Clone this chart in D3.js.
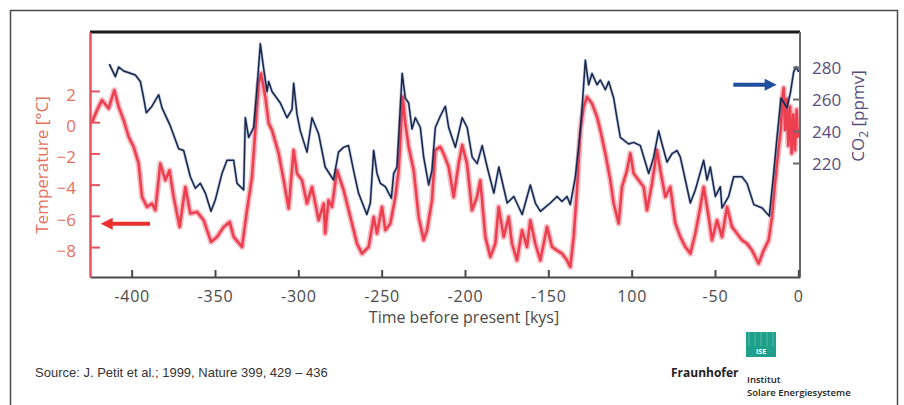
<!DOCTYPE html>
<html>
<head>
<meta charset="utf-8">
<script src="https://cdn.jsdelivr.net/npm/d3@7/dist/d3.min.js"></script>
<style>
  body { margin: 0; background: #fff; }
  svg { display: block; }
</style>
</head>
<body>
<svg id="chart" width="904" height="405"></svg>
<script>
// time before present in kyr
var tempYears = [-423.8, -420.8, -417.8, -413.8, -410.4, -407.8, -404.8, -401.8, -398.8, -395.8,
  -393.8, -390.8, -387.8, -385.8, -382.8, -379.8, -377.3, -374.8, -371.2, -367.8,
  -364.8, -360.8, -356.8, -352.4, -348.8, -344.8, -341.2, -338.8, -333.8, -330.8,
  -327.8, -325.8, -323.8, -322.4, -319.8, -317.8, -315.8, -311.8, -308.8, -305.8,
  -302.8, -300.8, -297.8, -294.8, -291.8, -287.8, -284.8, -283.9, -281.9, -279.8,
  -276.8, -272.8, -268.8, -264.8, -261.8, -257.8, -254.8, -252.8, -249.8, -247.8,
  -244.8, -241.8, -239.8, -237.4, -235.8, -233.8, -230.8, -227.8, -224.8, -222.8,
  -219.8, -217.8, -214.8, -212.5, -209.8, -206.8, -203.8, -201.7, -198.8, -195.8,
  -192.8, -190.8, -187.8, -184.8, -181.8, -179.8, -176.8, -173.8, -171.8, -168.8,
  -165.8, -162.8, -160.8, -157.8, -154.8, -150.8, -147.8, -144.8, -141.8, -138.8,
  -136.8, -134.8, -132.8, -130.8, -128.8, -126.8, -123.8, -120.8, -118.8, -115.8,
  -112.8, -110.8, -107.8, -105.8, -102.8, -100.8, -98.8, -95.8, -92.8, -90.8,
  -87.8, -84.8, -82.8, -79.8, -76.8, -73.8, -70.8, -67.8, -64.8, -61.8,
  -58.8, -56.8, -53.8, -51.8, -48.8, -45.8, -42.8, -39.8, -36.8, -33.8,
  -30.8, -27.8, -23.8, -20.8, -17.8, -15.8, -14.2, -12.8, -10.4, -9.5,
  -8.8, -8.0, -7.0, -6.0, -5.0, -4.0, -3.0, -2.0, -1.0, -0.3];
var tempValues = [0.0, 0.77, 1.41, 0.88, 2.05, 0.98, 0.13, -0.94, -1.58, -2.65,
  -4.79, -5.43, -5.21, -5.64, -2.65, -3.72, -3.08, -4.79, -6.71, -4.15,
  -5.85, -5.75, -6.28, -7.67, -7.35, -6.71, -6.39, -7.35, -7.99, -5.64,
  -3.51, -0.51, 2.48, 3.12, 1.62, -0.08, -0.51, -2.0, -3.72, -5.53,
  -1.79, -3.29, -3.72, -5.21, -4.15, -6.28, -5.21, -7.13, -5.0, -5.43,
  -3.08, -4.36, -6.07, -7.78, -8.42, -7.99, -6.07, -7.13, -5.43, -6.92,
  -6.49, -4.79, -3.08, 1.62, -0.08, -1.58, -3.08, -6.07, -7.56, -6.92,
  -5.0, -1.79, -1.58, -2.1, -2.87, -4.79, -2.65, -1.47, -2.65, -5.64,
  -4.79, -3.72, -7.35, -8.63, -7.78, -5.43, -7.35, -6.07, -7.78, -8.85,
  -6.92, -7.99, -6.28, -7.78, -8.85, -6.71, -7.99, -8.21, -8.42, -8.85,
  -9.27, -7.35, -4.36, -0.51, 0.98, 1.62, 1.2, 0.34, -0.51, -2.0,
  -3.72, -5.21, -6.49, -4.15, -3.08, -2.0, -3.29, -3.72, -4.15, -5.64,
  -3.93, -1.79, -3.08, -4.79, -4.15, -6.49, -7.35, -7.99, -8.42, -7.13,
  -5.43, -4.15, -6.07, -7.56, -6.28, -7.35, -5.43, -6.71, -7.13, -7.56,
  -7.78, -8.21, -9.06, -8.21, -7.56, -6.07, -4.15, -2.65, -0.3, 1.6,
  2.2, -0.5, 1.5, -1.5, 1.0, -2.0, 0.5, -1.8, 0.8, -1.0];

var co2Years = [-413.4, -409.8, -407.8, -404.8, -397.8, -394.8, -392.8, -391.2, -387.8, -383.8,
  -381.8, -376.8, -371.8, -368.8, -364.8, -361.8, -358.8, -355.8, -352.4, -349.8,
  -345.8, -342.8, -338.8, -336.8, -332.8, -331.8, -329.8, -326.8, -324.8, -322.8,
  -320.8, -318.8, -317.8, -315.8, -310.8, -306.8, -303.8, -302.8, -300.8, -298.8,
  -294.8, -291.8, -287.8, -283.9, -278.9, -275.9, -272.9, -269.9, -266.9, -263.9,
  -258.9, -256.8, -254.8, -252.8, -250.8, -247.8, -244.2, -242.8, -240.8, -237.7,
  -235.8, -233.8, -231.8, -229.8, -226.8, -224.8, -221.8, -219.8, -217.8, -214.8,
  -211.8, -209.8, -205.8, -201.7, -198.7, -195.7, -192.7, -189.7, -186.7, -182.7,
  -179.7, -174.7, -170.7, -165.7, -160.8, -157.8, -154.8, -148.8, -144.8, -141.8,
  -138.8, -136.8, -133.8, -130.8, -129.8, -127.8, -125.8, -123.8, -120.8, -118.8,
  -115.8, -113.8, -110.8, -108.8, -106.8, -101.8, -98.8, -94.8, -89.8, -86.8,
  -83.8, -81.8, -78.8, -75.8, -72.8, -70.8, -67.8, -64.8, -61.8, -56.8,
  -54.8, -52.8, -49.8, -46.8, -45.8, -41.8, -38.8, -33.8, -30.8, -26.7,
  -21.7, -17.4, -14.8, -12.8, -10.4, -6.8, -4.8, -2.8, -1.3, 0.2];
var co2Values = [281.8, 274, 280, 277.5, 275, 271, 260.6, 251.4, 255.5, 262.7,
  254.5, 243.2, 228.9, 227.8, 211.4, 204.2, 207.3, 201.2, 189.8, 197,
  213.5, 221.7, 221.7, 207.3, 203.2, 248.3, 236, 242.2, 266.8, 294.5,
  279, 264.7, 270.9, 264.7, 257.5, 248.3, 253.5, 269.8, 250.4, 240.1,
  226.8, 248.3, 238.1, 217.5, 209.4, 226.8, 229.8, 230.9, 215.5, 201.2,
  187.8, 195, 227.8, 213.5, 207.3, 205.2, 198, 213.5, 217.5, 276,
  260.6, 257.5, 241.2, 248.3, 242.2, 223.7, 206.3, 215.5, 242.2, 249.4,
  255.5, 242.2, 229.8, 248.3, 242.2, 223.7, 219.6, 230.9, 217.5, 201.2,
  217.5, 195, 199.1, 187.8, 206.3, 195, 189.8, 195, 199.1, 196,
  199.1, 194, 211.4, 240.1, 253.5, 284.2, 268.9, 276, 268.9, 271.9,
  265.8, 270.9, 260.6, 248, 236, 231.9, 232.9, 230.9, 213.5, 223.7,
  240.1, 231.9, 220.6, 225.8, 227.8, 223.7, 209.4, 195, 203.2, 221.7,
  209.4, 217.5, 199.1, 205.2, 191.9, 199.1, 211.4, 211.4, 207.3, 194,
  191.9, 186.8, 213.5, 236, 260.6, 254.5, 263.7, 277, 280.1, 277];

var xTickValues = [-400, -350, -300, -250, -200, -150, -100, -50, 0];
var xTickLabels = ["-400", "-350", "-300", "-250", "-200", "-150", "100", "-50", "0"];
var tempTicks = [2, 0, -2, -4, -6, -8];
var co2Ticks = [280, 260, 240, 220];

var svg = d3.select("#chart");
var plotLeft = 90, plotRight = 800, plotTop = 32, plotBottom = 277;

var x = d3.scaleLinear().domain([-425, 1]).range([plotLeft, plotRight]);
var yT = d3.scaleLinear().domain([-9.92, 5.78]).range([plotBottom, plotTop]);
var yC = d3.scaleLinear().domain([148.75, 301.9]).range([plotBottom, plotTop]);

// outer frame
svg.append("rect")
    .attr("x", 10.5).attr("y", 10.5)
    .attr("width", 887).attr("height", 420)
    .attr("fill", "none")
    .attr("stroke", "#4a4a4a")
    .attr("stroke-width", 1.5);

var tempData = tempYears.map(function (t, i) { return [t, tempValues[i]]; });
var co2Data = co2Years.map(function (t, i) { return [t, co2Values[i]]; });

var tempLine = d3.line()
    .x(function (d) { return x(d[0]); })
    .y(function (d) { return yT(d[1]); });
var co2Line = d3.line()
    .x(function (d) { return x(d[0]); })
    .y(function (d) { return yC(d[1]); });

// temperature: soft band then the line
svg.append("path").datum(tempData)
    .attr("d", tempLine)
    .attr("fill", "none")
    .attr("stroke", "#f27a85")
    .attr("stroke-opacity", 0.5)
    .attr("stroke-width", 6)
    .attr("stroke-linejoin", "round");
svg.append("path").datum(tempData)
    .attr("d", tempLine)
    .attr("fill", "none")
    .attr("stroke", "#ec3f50")
    .attr("stroke-width", 2.6)
    .attr("stroke-linejoin", "round");

// CO2
svg.append("path").datum(co2Data)
    .attr("d", co2Line)
    .attr("fill", "none")
    .attr("stroke", "#3565b5")
    .attr("stroke-opacity", 0.35)
    .attr("stroke-width", 3)
    .attr("stroke-linejoin", "round");
svg.append("path").datum(co2Data)
    .attr("d", co2Line)
    .attr("fill", "none")
    .attr("stroke", "#1b2545")
    .attr("stroke-width", 1.5)
    .attr("stroke-linejoin", "round");

// frame lines of the plot
svg.append("line")
    .attr("x1", plotLeft).attr("x2", plotRight).attr("y1", plotTop).attr("y2", plotTop)
    .attr("stroke", "#1a1a1a").attr("stroke-width", 3);
svg.append("line")
    .attr("x1", plotRight).attr("x2", plotRight).attr("y1", plotTop).attr("y2", plotBottom)
    .attr("stroke", "#6a6a6a").attr("stroke-width", 2);

// x axis
var xAxis = d3.axisBottom(x)
    .tickValues(xTickValues)
    .tickFormat(function (d, i) { return xTickLabels[i]; })
    .tickSizeInner(-7).tickSizeOuter(0).tickPadding(14);
var gx = svg.append("g").attr("transform", "translate(0," + plotBottom + ")").call(xAxis);
gx.select(".domain").attr("stroke", "#4a4a4a").attr("stroke-width", 2);
gx.selectAll(".tick line").attr("stroke", "#4a4a4a").attr("stroke-width", 2);
gx.selectAll("text")
    .attr("fill", "#4a4a4a")
    .style("font-family", "'Open Sans', sans-serif")
    .style("font-size", "16px")
    .style("letter-spacing", "0.8px");

// temperature axis
var yAxisT = d3.axisLeft(yT)
    .tickValues(tempTicks)
    .tickSizeInner(-10).tickSizeOuter(0).tickPadding(14);
var gyT = svg.append("g").attr("transform", "translate(" + plotLeft + ",0)").call(yAxisT);
gyT.select(".domain").attr("stroke", "#e9505c").attr("stroke-width", 2.5);
gyT.selectAll(".tick line").attr("stroke", "#e9505c").attr("stroke-width", 2);
gyT.selectAll("text")
    .attr("fill", "#e3715e")
    .attr("dy", "0.55em")
    .style("font-family", "'Open Sans', sans-serif")
    .style("font-size", "17px");

// CO2 axis
var yAxisC = d3.axisRight(yC)
    .tickValues(co2Ticks)
    .tickSizeInner(-7).tickSizeOuter(0).tickPadding(12);
var gyC = svg.append("g").attr("transform", "translate(" + plotRight + ",0)").call(yAxisC);
gyC.select(".domain").remove();
gyC.selectAll(".tick line").attr("stroke", "#6a6a6a").attr("stroke-width", 2);
gyC.selectAll("text")
    .attr("fill", "#574d80")
    .attr("dy", "0.4em")
    .style("font-family", "'Open Sans', sans-serif")
    .style("font-size", "17px");

// axis titles
svg.append("text")
    .attr("transform", "translate(48,165) rotate(-90)")
    .attr("text-anchor", "middle")
    .attr("fill", "#e3715e")
    .style("font-family", "'Open Sans', sans-serif")
    .style("font-size", "17px")
    .text("Temperature [°C]");

var co2Title = svg.append("text")
    .attr("transform", "translate(864,116) rotate(-90)")
    .attr("text-anchor", "middle")
    .attr("fill", "#574d80")
    .style("font-family", "'Open Sans', sans-serif")
    .style("font-size", "17px");
co2Title.append("tspan").text("CO");
co2Title.append("tspan").attr("dy", 4).style("font-size", "12px").text("2");
co2Title.append("tspan").attr("dy", -4).text(" [ppmv]");

svg.append("text")
    .attr("x", 464).attr("y", 323)
    .attr("text-anchor", "middle")
    .attr("fill", "#4a4a4a")
    .style("font-family", "'Open Sans', sans-serif")
    .style("font-size", "16px")
    .text("Time before present [kys]");

// arrows
function arrow(x1, x2, y, color) {
  var dir = x2 > x1 ? 1 : -1;
  svg.append("line")
      .attr("x1", x1).attr("x2", x2 - dir * 10)
      .attr("y1", y).attr("y2", y)
      .attr("stroke", color).attr("stroke-width", 4);
  svg.append("path")
      .attr("d", "M" + x2 + "," + y + "L" + (x2 - dir * 12) + "," + (y - 6) +
           "L" + (x2 - dir * 12) + "," + (y + 6) + "Z")
      .attr("fill", color);
}
arrow(x(-389), x(-418.6), yT(-6.5), "#e8312d");
arrow(x(-39), x(-13), yC(269), "#1f4f9d");

// source note
svg.append("text")
    .attr("x", 35).attr("y", 377)
    .attr("fill", "#333")
    .style("font-family", "'Liberation Sans', Arial, sans-serif")
    .style("font-size", "13px")
    .text("Source: J. Petit et al.; 1999, Nature 399, 429 \u2013 436");

// logo
var logo = svg.append("g");
logo.append("rect")
    .attr("x", 746).attr("y", 332).attr("width", 30).attr("height", 25)
    .attr("fill", "#1fa08b");
d3.range(0, 5).forEach(function (i) {
  logo.append("line")
      .attr("x1", 746 + 6 * i + 3).attr("x2", 746 + 6 * i + 3)
      .attr("y1", 332).attr("y2", 346)
      .attr("stroke", "#fff").attr("stroke-opacity", 0.25).attr("stroke-width", 1);
});
logo.append("text")
    .attr("x", 761).attr("y", 354)
    .attr("text-anchor", "middle")
    .attr("fill", "#fff")
    .style("font-family", "'Open Sans', sans-serif")
    .style("font-size", "7px")
    .style("font-weight", "700")
    .text("ISE");
logo.append("text")
    .attr("x", 671).attr("y", 377)
    .attr("fill", "#222")
    .style("font-family", "'Open Sans', sans-serif")
    .style("font-size", "12px")
    .style("font-weight", "700")
    .text("Fraunhofer");
logo.append("text")
    .attr("x", 747).attr("y", 383)
    .attr("fill", "#222")
    .style("font-family", "'Open Sans', sans-serif")
    .style("font-size", "9.5px")
    .style("font-weight", "600")
    .text("Institut");
logo.append("text")
    .attr("x", 747).attr("y", 396)
    .attr("fill", "#222")
    .style("font-family", "'Open Sans', sans-serif")
    .style("font-size", "9.5px")
    .style("font-weight", "600")
    .text("Solare Energiesysteme");
</script>
</body>
</html>
